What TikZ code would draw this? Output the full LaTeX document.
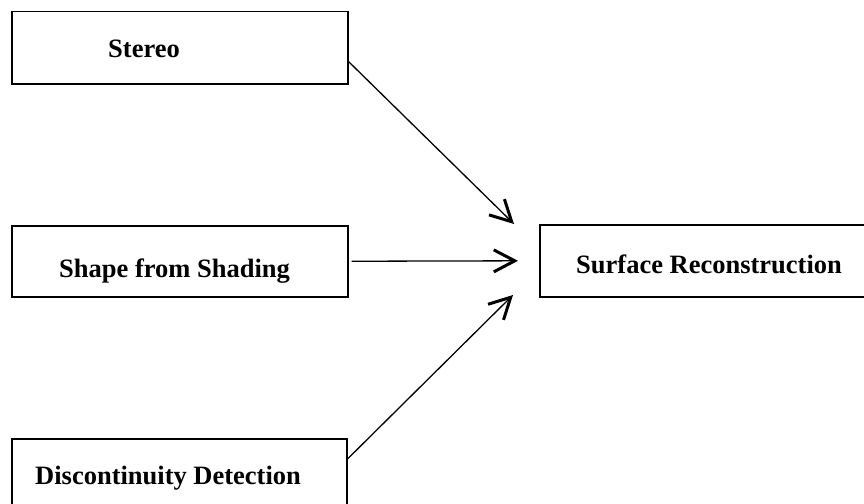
\documentclass[tikz,border=0pt]{standalone}
\usepackage{fontspec}
\setmainfont{Liberation Serif}
\usetikzlibrary{arrows.meta}

\begin{document}
\begin{tikzpicture}[x=1pt, y=-1pt,
  box/.style = {draw, line width=1.5pt, inner sep=0pt, anchor=north west},
  lbl/.style = {font=\bfseries\fontsize{26.5}{30}\selectfont, anchor=base west, inner sep=0pt},
  arr/.style = {-{Straight Barb[length=21pt,width=22pt,line width=3pt]}, line width=1.3pt}]
\useasboundingbox (0,0) rectangle (864,503);
\node[box, minimum width=336pt, minimum height=72pt] (stereo) at (11,11) {};
\node[box, minimum width=336pt, minimum height=71pt] (shape) at (11,225) {};
\node[box, minimum width=335pt, minimum height=80pt] (disc) at (11,438) {};
\node[box, minimum width=330pt, minimum height=72pt] (surface) at (539,224) {};
\node[lbl] (stereotxt) at (108,57) {Stereo};
\node[lbl] (shapetxt) at (59,277) {Shape from Shading};
\node[lbl] (disctxt) at (35,484) {Discontinuity Detection};
\node[lbl] (surfacetxt) at (576,273) {Surface Reconstruction};
\coordinate (tip1) at (514,224);
\coordinate (tip3) at (513,295);
\draw[arr] ([yshift=23pt]stereo.south east) -- (tip1);
\draw[arr, shorten <=3pt, shorten >=21pt] (shape.east) -- (surface.west);
\draw[arr] ([yshift=-21pt]disc.north east) -- (tip3);
\end{tikzpicture}
\end{document}
